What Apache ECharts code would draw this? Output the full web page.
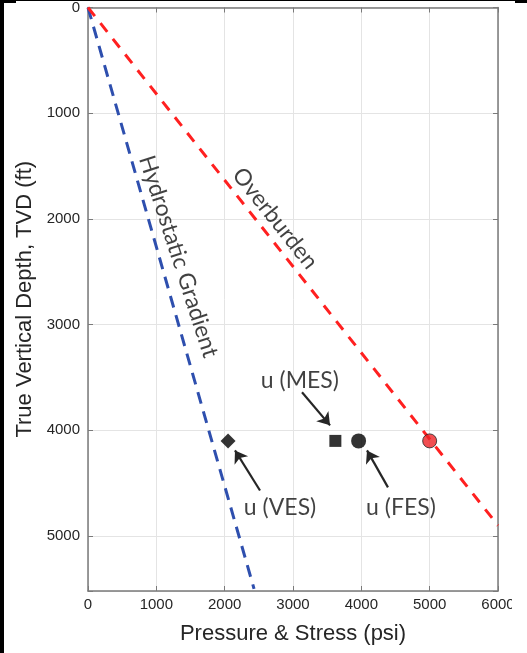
<!DOCTYPE html>
<html>
<head>
<meta charset="utf-8">
<script src="https://cdn.jsdelivr.net/npm/echarts@6/dist/echarts.min.js"></script>
<style>
html,body{margin:0;padding:0;background:#fff;}
#c{width:527px;height:653px;}
</style>
</head>
<body>
<div id="c"></div>
<script>
// ---- data ----
const xTickValues = [0, 1000, 2000, 3000, 4000, 5000, 6000];
const yTickValues = [0, 1000, 2000, 3000, 4000, 5000];
const hydroPressure = [0, 2430];
const hydroDepth = [0, 5500];
const overPressure = [0, 6000];
const overDepth = [0, 4900];
const pointNames = ['VES', 'MES', 'FES', 'OB'];
const pointPressure = [2050, 3620, 3960, 5000];
const pointDepth = [4100, 4100, 4100, 4100];
const annTexts = ['u (MES)', 'u (VES)', 'u (FES)'];
const annX = [3100, 2810, 4580];
const annY = [3525, 4730, 4730];
const arrowFromX = [3132, 2517, 4390];
const arrowFromY = [3640, 4569, 4540];
const arrowToX = [3542, 2151, 4083];
const arrowToY = [3953, 4190, 4190];
const lineLabels = ['Hydrostatic Gradient', 'Overburden'];
const lineLabelX = [1324, 2737];
const lineLabelY = [2355, 1995];
const lineLabelRot = [-72, -51.5];

const chart = echarts.init(document.getElementById('c'), null, {renderer: 'canvas'});
const axisGray = '#7a7a7a';
const txt = '#262626';
const labelFont = 'Liberation Sans';
const annFont = 'Lato';

function zip(a, b) { return a.map((v, i) => [v, b[i]]); }

const markerStyles = [
  {symbol: 'diamond', size: 15, color: '#000'},
  {symbol: 'rect', size: 12, color: '#000'},
  {symbol: 'circle', size: 15, color: '#000'},
  {symbol: 'circle', size: 14, color: '#ee2225'}
];

const option = {
  animation: false,
  backgroundColor: '#fff',
  grid: {left: 88, right: 29, top: 7, bottom: 62, containLabel: false},
  xAxis: [{
    type: 'value', min: 0, max: 6000, interval: 1000, position: 'bottom',
    name: 'Pressure & Stress (psi)', nameLocation: 'middle', nameGap: 32,
    nameTextStyle: {fontFamily: labelFont, fontSize: 22, color: txt},
    axisLine: {show: true, onZero: false, lineStyle: {color: axisGray, width: 1.5}},
    axisTick: {show: true, inside: true, length: 5, lineStyle: {color: axisGray}},
    axisLabel: {fontFamily: labelFont, fontSize: 15, color: txt, margin: 6,
      formatter: v => xTickValues.indexOf(v) >= 0 ? String(v) : ''},
    splitLine: {show: true, lineStyle: {color: '#e4e4e4', width: 1}}
  }, {
    type: 'value', min: 0, max: 6000, interval: 1000, position: 'top',
    axisLine: {show: true, onZero: false, lineStyle: {color: axisGray, width: 1.5}},
    axisTick: {show: true, inside: true, length: 5, lineStyle: {color: axisGray}},
    axisLabel: {show: false}, splitLine: {show: false}
  }],
  yAxis: [{
    type: 'value', min: 0, max: 5520, interval: 1000, inverse: true, position: 'left',
    name: 'True Vertical Depth, TVD (ft)', nameLocation: 'middle', nameGap: 49,
    nameTextStyle: {fontFamily: labelFont, fontSize: 22, color: txt},
    axisLine: {show: true, onZero: false, lineStyle: {color: axisGray, width: 1.5}},
    axisTick: {show: true, inside: true, length: 5, lineStyle: {color: axisGray}},
    axisLabel: {fontFamily: labelFont, fontSize: 15, color: txt, margin: 8,
      formatter: v => yTickValues.indexOf(v) >= 0 ? String(v) : ''},
    splitLine: {show: true, lineStyle: {color: '#e4e4e4', width: 1}}
  }, {
    type: 'value', min: 0, max: 5520, interval: 1000, inverse: true, position: 'right',
    axisLine: {show: true, onZero: false, lineStyle: {color: axisGray, width: 1.5}},
    axisTick: {show: true, inside: true, length: 5, lineStyle: {color: axisGray}},
    axisLabel: {show: false}, splitLine: {show: false}
  }],
  series: [
    {
      type: 'line', name: 'Hydrostatic', data: zip(hydroPressure, hydroDepth),
      symbol: 'none', lineStyle: {color: '#2e4fae', width: 3, type: [12, 8]}, z: 3
    },
    {
      type: 'line', name: 'Overburden', data: zip(overPressure, overDepth),
      symbol: 'none', lineStyle: {color: '#ff2020', width: 3, type: [11, 9]}, z: 3
    },
    ...pointNames.map((n, i) => ({
      type: 'scatter', name: n, data: [[pointPressure[i], pointDepth[i]]],
      symbol: markerStyles[i].symbol, symbolSize: markerStyles[i].size,
      itemStyle: {color: markerStyles[i].color, borderColor: '#222', borderWidth: i === 3 ? 1 : 0},
      z: 5
    })),
    {
      type: 'lines', coordinateSystem: 'cartesian2d',
      symbol: ['none', 'arrow'], symbolSize: 12,
      lineStyle: {color: '#262626', width: 2.2, opacity: 1},
      data: arrowFromX.map((x, i) => ({coords: [[x, arrowFromY[i]], [arrowToX[i], arrowToY[i]]]})),
      z: 6
    },
    {
      type: 'scatter', symbolSize: 0, silent: true,
      data: annTexts.map((t, i) => ({name: t, value: [annX[i], annY[i]]})),
      label: {show: true, position: 'inside', formatter: p => p.name,
        fontFamily: annFont, fontSize: 23, color: '#111'},
      z: 7
    },
    {
      type: 'scatter', symbolSize: 0, silent: true,
      data: lineLabels.map((t, i) => ({name: t, value: [lineLabelX[i], lineLabelY[i]],
        label: {rotate: lineLabelRot[i]}})),
      label: {show: true, position: 'inside', formatter: p => p.name,
        fontFamily: annFont, fontSize: 23, color: '#111'},
      z: 7
    }
  ],
  graphic: [
    {type: 'rect', shape: {x: 512, y: 594, width: 15, height: 26}, style: {fill: '#fff'}, z: 99},
    {type: 'rect', shape: {x: 0, y: 0, width: 4, height: 653}, style: {fill: '#000'}, z: 100},
    {type: 'rect', shape: {x: 0, y: 0, width: 527, height: 1}, style: {fill: '#000'}, z: 100},
    {type: 'rect', shape: {x: 0, y: 0, width: 16, height: 3}, style: {fill: '#000'}, z: 100},
    {type: 'rect', shape: {x: 515, y: 0, width: 12, height: 3}, style: {fill: '#000'}, z: 100}
  ]
};
chart.setOption(option);
</script>
</body>
</html>
